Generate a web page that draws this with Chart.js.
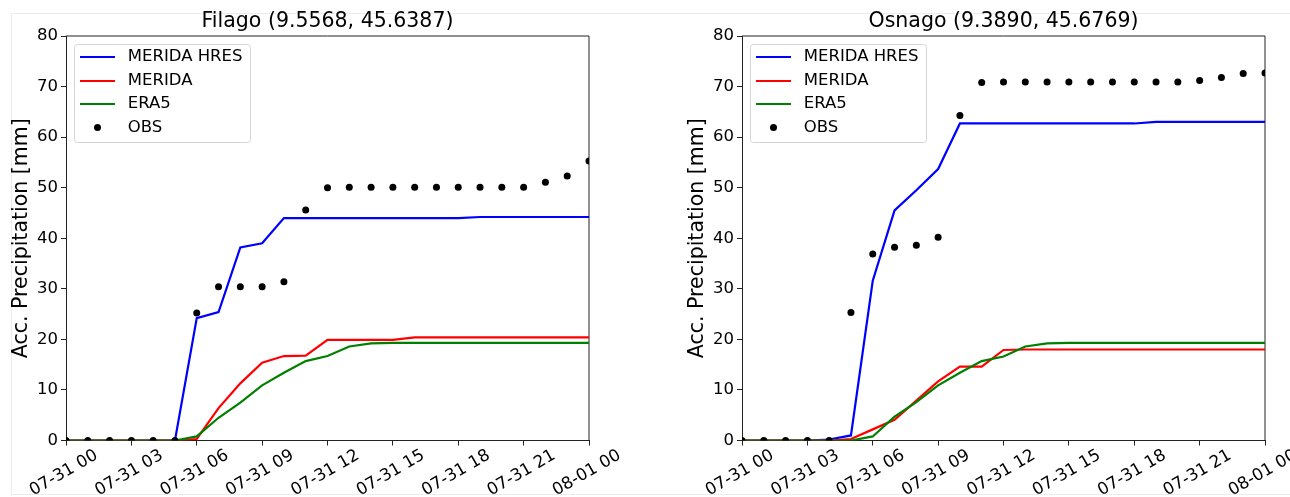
<!DOCTYPE html>
<html>
<head>
<meta charset="utf-8">
<script src="https://cdn.jsdelivr.net/npm/chart.js@4.4.1/dist/chart.umd.min.js"></script>
<style>
  html, body { margin: 0; padding: 0; background: #fff; }
  body { width: 1290px; height: 497px; position: relative; overflow: hidden; }
  #frame { position: absolute; left: 11px; top: 13px; width: 1300px; height: 480px; border: 1px solid #ececec; border-right: none; }
  canvas { position: absolute; top: 0; }
  #filago { left: 0; }
  #osnago { left: 676px; }
</style>
</head>
<body>
<div id="frame"></div>
<canvas id="filago" width="640" height="497"></canvas>
<canvas id="osnago" width="614" height="497"></canvas>
<script>
// hours since 07-31 00
const hours = [0, 1, 2, 3, 4, 5, 6, 7, 8, 9, 10, 11, 12, 13, 14, 15, 16, 17, 18, 19, 20, 21, 22, 23, 24];
const tickLabels = ['07-31 00', '07-31 03', '07-31 06', '07-31 09', '07-31 12',
                    '07-31 15', '07-31 18', '07-31 21', '08-01 00'];
const yTicks = [0, 10, 20, 30, 40, 50, 60, 70, 80];

// Filago (9.5568, 45.6387)
const filagoHres   = [0, 0, 0, 0, 0, 0, 24.2, 25.4, 38.2, 39.0, 44.0, 44.0, 44.0, 44.0, 44.0, 44.0, 44.0, 44.0, 44.0, 44.2, 44.2, 44.2, 44.2, 44.2, 44.2];
const filagoMerida = [0, 0, 0, 0, 0, 0, 0.3, 6.4, 11.3, 15.4, 16.7, 16.8, 19.9, 19.9, 19.9, 19.9, 20.4, 20.4, 20.4, 20.4, 20.4, 20.4, 20.4, 20.4, 20.4];
const filagoEra5   = [0, 0, 0, 0, 0, 0, 0.8, 4.5, 7.5, 10.9, 13.4, 15.7, 16.7, 18.6, 19.2, 19.3, 19.3, 19.3, 19.3, 19.3, 19.3, 19.3, 19.3, 19.3, 19.3];
const filagoObs    = [0, 0, 0, 0, 0, 0, 25.2, 30.4, 30.4, 30.4, 31.4, 45.6, 50.0, 50.1, 50.1, 50.1, 50.1, 50.1, 50.1, 50.1, 50.1, 50.1, 51.1, 52.3, 55.3];

// Osnago (9.3890, 45.6769)
const osnagoHres   = [0, 0, 0, 0, 0.2, 1.0, 31.6, 45.5, 49.5, 53.7, 62.7, 62.7, 62.7, 62.7, 62.7, 62.7, 62.7, 62.7, 62.7, 63.0, 63.0, 63.0, 63.0, 63.0, 63.0];
const osnagoMerida = [0, 0, 0, 0, 0, 0.3, 2.2, 4.1, 7.9, 11.7, 14.6, 14.6, 17.9, 18.0, 18.0, 18.0, 18.0, 18.0, 18.0, 18.0, 18.0, 18.0, 18.0, 18.0, 18.0];
const osnagoEra5   = [0, 0, 0, 0, 0, 0, 0.8, 4.7, 7.6, 10.9, 13.4, 15.7, 16.6, 18.6, 19.2, 19.3, 19.3, 19.3, 19.3, 19.3, 19.3, 19.3, 19.3, 19.3, 19.3];
const osnagoObs    = [0, 0, 0, 0, 0, 25.3, 36.9, 38.2, 38.6, 40.2, 64.3, 70.8, 70.9, 70.9, 70.9, 70.9, 70.9, 70.9, 70.9, 70.9, 70.9, 71.2, 71.8, 72.6, 72.7];

const FONT = 'DejaVu Sans';
const INK = '#000';
const AXIS = '#222';

// legend markers (matplotlib style handles)
function lineHandle(color) {
  const c = document.createElement('canvas');
  c.width = 35; c.height = 2;
  const g = c.getContext('2d');
  g.fillStyle = color;
  g.fillRect(0, 0, 35, 2);
  return c;
}
function dotHandle() {
  const c = document.createElement('canvas');
  c.width = 9; c.height = 9;
  const g = c.getContext('2d');
  g.fillStyle = '#000';
  g.beginPath();
  g.arc(4.5, 4.5, 3.5, 0, Math.PI * 2);
  g.fill();
  return c;
}
const handles = {
  'MERIDA HRES': lineHandle('#0000ff'),
  'MERIDA': lineHandle('#ff0000'),
  'ERA5': lineHandle('#008000'),
  'OBS': dotHandle()
};

// title over the plot area, legend box inside upper left, top/right spines
const mplLook = {
  id: 'mplLook',
  beforeDraw(chart) {
    const a = chart.chartArea;
    chart.titleBlock.left = a.left;
    chart.titleBlock.right = a.right;

    const lg = chart.legend;
    lg.left = a.left + 2.5;
    lg.top = a.top + 5.75;
    lg.right = lg.left + 180;
    lg.bottom = lg.top + 200;

    const ctx = chart.ctx;
    ctx.save();
    ctx.beginPath();
    ctx.roundRect(a.left + 8.5, a.top + 8.5, 176, 98, 3);
    ctx.fillStyle = 'rgba(255,255,255,0.8)';
    ctx.fill();
    ctx.strokeStyle = '#d4d4d4';
    ctx.lineWidth = 1;
    ctx.stroke();
    ctx.restore();
  },
  beforeDatasetsDraw(chart) {
    const a = chart.chartArea;
    const ctx = chart.ctx;
    ctx.save();
    ctx.strokeStyle = AXIS;
    ctx.lineWidth = 1;
    ctx.beginPath();
    ctx.moveTo(a.left, a.top);
    ctx.lineTo(a.right, a.top);
    ctx.lineTo(a.right, a.bottom);
    ctx.stroke();
    ctx.restore();
  }
};

function makeChart(id, title, hres, merida, era5, obs, padRight) {
  const lineSet = (label, data, color, order) => ({
    label: label,
    data: data,
    borderColor: color,
    backgroundColor: color,
    borderWidth: 2.2,
    pointRadius: 0,
    tension: 0,
    clip: 0,
    order: order
  });
  return new Chart(document.getElementById(id), {
    type: 'line',
    data: {
      labels: hours,
      datasets: [
        lineSet('MERIDA HRES', hres, '#0000ff', 4),
        lineSet('MERIDA', merida, '#ff0000', 3),
        lineSet('ERA5', era5, '#008000', 2),
        {
          label: 'OBS',
          data: obs,
          showLine: false,
          pointRadius: 3.5,
          pointBackgroundColor: '#000',
          pointBorderWidth: 0,
          borderColor: '#000',
          clip: 0,
          order: 1
        }
      ]
    },
    options: {
      responsive: false,
      animation: false,
      events: [],
      layout: { padding: { left: 0, right: padRight, top: 0, bottom: 0 } },
      plugins: {
        title: {
          display: true,
          text: title,
          color: INK,
          font: { family: FONT, size: 20.5, weight: 'normal' },
          padding: { top: 9, bottom: 2.4 }
        },
        legend: {
          position: 'chartArea',
          align: 'start',
          labels: {
            usePointStyle: true,
            pointStyleWidth: 44,
            padding: 7,
            color: INK,
            font: { family: FONT, size: 16.5 },
            sort: (a, b) => a.datasetIndex - b.datasetIndex,
            generateLabels: (chart) => {
              const items = Chart.defaults.plugins.legend.labels.generateLabels(chart);
              items.forEach(it => { it.pointStyle = handles[it.text]; });
              return items;
            }
          }
        },
        tooltip: { enabled: false }
      },
      scales: {
        x: {
          type: 'linear',
          min: 0,
          max: 24,
          afterFit: (scale) => { scale.height = 56.5; },
          grid: { drawOnChartArea: false, drawTicks: true, tickLength: 5, color: AXIS },
          border: { display: true, color: AXIS },
          ticks: {
            stepSize: 3,
            autoSkip: false,
            minRotation: 30,
            maxRotation: 30,
            labelOffset: 30.5,
            padding: 0,
            color: INK,
            font: { family: FONT, size: 16.8 },
            callback: (v) => tickLabels[v / 3]
          }
        },
        y: {
          min: yTicks[0],
          max: yTicks[yTicks.length - 1],
          afterFit: (scale) => { scale.width = 66; },
          grid: { drawOnChartArea: false, drawTicks: true, tickLength: 5, color: AXIS },
          border: { display: true, color: AXIS },
          ticks: {
            stepSize: 10,
            padding: 3,
            color: INK,
            font: { family: FONT, size: 16.5 }
          },
          title: {
            display: true,
            text: 'Acc. Precipitation [mm]',
            color: INK,
            font: { family: FONT, size: 20.5 },
            padding: { top: 9, bottom: 0 }
          }
        }
      }
    },
    plugins: [mplLook]
  });
}

makeChart('filago', 'Filago (9.5568, 45.6387)', filagoHres, filagoMerida, filagoEra5, filagoObs, 51);
makeChart('osnago', 'Osnago (9.3890, 45.6769)', osnagoHres, osnagoMerida, osnagoEra5, osnagoObs, 25);
</script>
</body>
</html>
